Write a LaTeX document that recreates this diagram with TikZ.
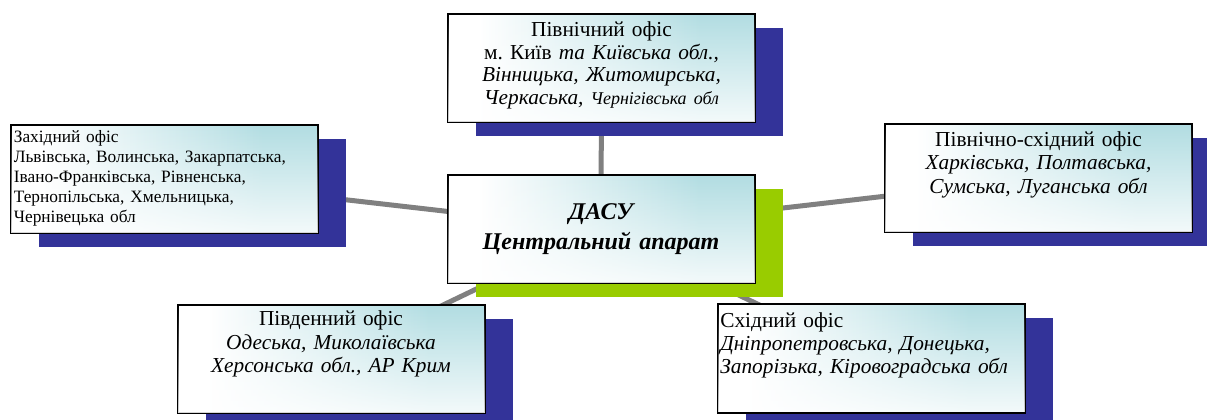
\documentclass[tikz,border=0pt]{standalone}
\usepackage{fontspec}
\setmainfont{Liberation Serif}
\usetikzlibrary{shadows,backgrounds,fadings}
\definecolor{officeteal}{RGB}{178,221,226}
\definecolor{officeblue}{RGB}{51,51,153}
\definecolor{centregreen}{RGB}{153,204,0}
\pgfdeclarehorizontalshading{officeglow}{100bp}{color(0bp)=(white);
  color(30bp)=(white); color(66bp)=(officeteal); color(100bp)=(officeteal)}
\frenchspacing

\begin{document}
\begin{tikzpicture}[x=0.75pt, y=-0.75pt,
  box base/.style = {
    draw=black, line width=1.5pt, shade, shading=officeglow,
    postaction={fill=white, fill opacity=0.85, path fading=north},
    minimum width=230.25pt, minimum height=81pt,
    inner xsep=2pt, inner ysep=0pt, text width=226pt,
  },
  office/.style = {
    box base,
    drop shadow={shadow xshift=21pt, shadow yshift=-10.5pt,
      fill=officeblue, opacity=1},
  },
  centre/.style = {
    box base, align=center,
    font=\bfseries\itshape\fontsize{18}{23}\selectfont,
    drop shadow={shadow xshift=21pt, shadow yshift=-10.5pt,
      fill=centregreen, opacity=1},
  },
  link/.style = {draw=black!50, line width=3.75pt},
]
  \useasboundingbox (0,0) rectangle (1207,420);

  \node[name=dasu, centre] at (601,229)
    {ДАСУ\\Центральний апарат};
  \node[name=north, office, align=center, text height=17pt, text depth=64pt,
    font=\fontsize{16}{17}\selectfont] at (601.5,68)
    {Північний офіс\\
     м. Київ \textit{та Київська обл.,}\\
     \textit{Вінницька, Житомирська,}\\
     \textit{Черкаська,} {\fontsize{13.5}{17}\selectfont\textit{Чернігівська обл}}};
  \node[name=west, office, align=left, text height=13.5pt, text depth=67.5pt,
    font=\fontsize{13}{15}\selectfont] at (164.5,179)
    {Західний офіс\\
     Львівська, Волинська, Закарпатська,\\
     Івано-Франківська, Рівненська,\\
     Тернопільська, Хмельницька,\\
     Чернівецька обл};
  \node[name=ne, office, align=center, text height=16.5pt, text depth=64.5pt,
    font=\fontsize{16}{17.5}\selectfont] at (1038.5,178.5)
    {Північно-східний офіс\\
     \textit{Харківська, Полтавська,}\\
     \textit{Сумська, Луганська обл}};
  \node[name=south, office, align=center, text height=15.75pt, text depth=65.25pt,
    font=\fontsize{16}{17.5}\selectfont] at (331,359)
    {Південний офіс\\
     \textit{Одеська, Миколаївська}\\
     \textit{Херсонська обл., АР Крим}};
  \node[name=se, office, align=left, text height=17pt, text depth=64pt,
    font=\fontsize{16}{17.5}\selectfont] at (871,358.5)
    {Східний офіс\\
     \textit{Дніпропетровська, Донецька,}\\
     \textit{Запорізька, Кіровоградська обл}};

  \begin{scope}[on background layer]
    \foreach \office in {north,west,ne,south,se}
      \draw[link] (dasu.center) -- (\office.center);
  \end{scope}
\end{tikzpicture}
\end{document}
